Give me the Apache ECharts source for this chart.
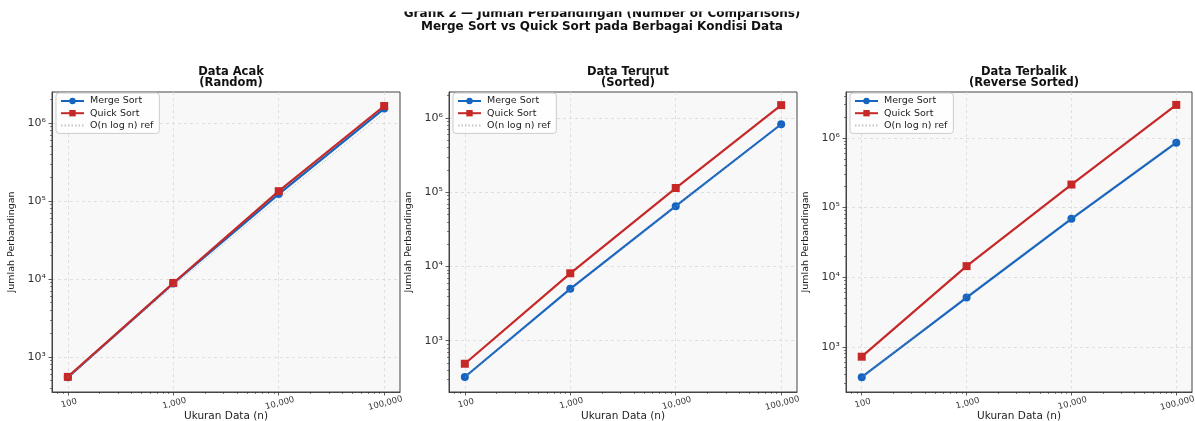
<!DOCTYPE html>
<html>
<head>
<meta charset="utf-8">
<script src="https://cdn.jsdelivr.net/npm/echarts@6/dist/echarts.min.js"></script>
<style>
html,body{margin:0;padding:0;background:#fff;}
#chart{width:1195px;height:421px;}
</style>
</head>
<body>
<div id="chart"></div>
<script>
// ---- Data ----
const sizesN = [100, 1000, 10000, 100000];
const panelTitles = ['Data Acak\n(Random)', 'Data Terurut\n(Sorted)', 'Data Terbalik\n(Reverse Sorted)'];
const seriesNames = ['Merge Sort', 'Quick Sort', 'O(n log n) ref'];

const mergeRandom = [548, 8750, 123000, 1540000];
const quickRandom = [555, 8900, 134000, 1660000];
const refRandom   = [541, 8115, 108200, 1352500];

const mergeSorted = [325, 5000, 65000, 824000];
const quickSorted = [490, 8100, 114000, 1490000];
const refSorted   = [320, 4800, 64000, 800000];

const mergeReverse = [365, 5100, 69000, 855000];
const quickReverse = [720, 14400, 214000, 2980000];
const refReverse   = [360, 5400, 72000, 900000];

const xTickLabels = ['100', '1,000', '10,000', '100,000'];
const yTickLabels = {3: '10³', 4: '10⁴', 5: '10⁵', 6: '10⁶'};

const panelData = [
  [mergeRandom, quickRandom, refRandom],
  [mergeSorted, quickSorted, refSorted],
  [mergeReverse, quickReverse, refReverse]
];

// axis extents (log axes, matplotlib-like margins)
const xMin = 70.8, xMax = 141254;
const yRanges = [[355, 2510000], [204, 2240000], [224, 4570000]];

// ---- Layout / style ----
const grids = [
  {left: 52, top: 92, width: 348, height: 300},
  {left: 449, top: 92, width: 348, height: 300},
  {left: 846, top: 92, width: 346, height: 300}
];
const FONT = 'DejaVu Sans';
const colors = ['#1565C0', '#C62828', '#a0a0a0'];
const FRAME = '#444444';

function minorValues(lo, hi) {
  const out = [];
  for (let e = -1; e <= 7; e++) {
    for (let m = 2; m <= 9; m++) {
      const v = m * Math.pow(10, e);
      if (v > lo && v < hi) out.push(v);
    }
  }
  return out;
}

const option = {
  animation: false,
  backgroundColor: '#ffffff',
  textStyle: {fontFamily: FONT},
  title: [],
  legend: [],
  grid: [],
  xAxis: [],
  yAxis: [],
  series: [],
  graphic: [{
    type: 'rect', z: 100, left: 0, top: 0,
    shape: {x: 0, y: 0, width: 1195, height: 11.5},
    style: {fill: '#ffffff'}
  }]
};

option.title.push({
  text: 'Grafik 2 — Jumlah Perbandingan (Number of Comparisons)\nMerge Sort vs Quick Sort pada Berbagai Kondisi Data',
  left: 597, top: 2, textAlign: 'center',
  textStyle: {fontFamily: FONT, fontSize: 12, fontWeight: 'bold', color: '#111', lineHeight: 13}
});

grids.forEach((g, i) => {
  option.grid.push(Object.assign({
    show: true, backgroundColor: '#f8f8f8', borderColor: FRAME, borderWidth: 1,
    containLabel: false, outerBoundsMode: 'none'
  }, g));
  option.title.push({
    text: panelTitles[i],
    left: g.left + g.width / 2, top: 61, textAlign: 'center',
    textStyle: {fontFamily: FONT, fontSize: 11.5, fontWeight: 'bold', color: '#111', lineHeight: 11.5}
  });
  option.legend.push({
    data: [seriesNames[0], seriesNames[1], {name: seriesNames[2], itemStyle: {opacity: 0}}],
    orient: 'vertical',
    left: g.left + 4, top: 93,
    padding: [3, 6, 3, 4],
    itemWidth: 23, itemHeight: 8, itemGap: 2.2,
    backgroundColor: 'rgba(255,255,255,0.85)',
    borderColor: '#cccccc', borderWidth: 1, borderRadius: 3,
    textStyle: {fontFamily: FONT, fontSize: 9.5, color: '#222', padding: [0, 0, 0, 1]}
  });

  const yr = yRanges[i];
  // main x axis
  option.xAxis.push({
    type: 'log', logBase: 10, gridIndex: i, min: xMin, max: xMax, position: 'bottom',
    name: 'Ukuran Data (n)', nameLocation: 'middle', nameGap: 19, nameMoveOverlap: false,
    nameTextStyle: {fontFamily: FONT, fontSize: 10.5, color: '#222', verticalAlign: 'top'},
    axisLine: {show: true, onZero: false, lineStyle: {color: FRAME, width: 1}},
    axisTick: {show: true, length: 3.5, lineStyle: {color: '#333', width: 0.8}},
    axisLabel: {
      show: true, rotate: 15, align: 'center', verticalAlign: 'top', margin: 7,
      showMinLabel: false, showMaxLabel: false,
      fontFamily: FONT, fontSize: 8.5, color: '#333',
      formatter: v => {
        const k = Math.round(Math.log10(v));
        return xTickLabels[k - 2] || '';
      }
    },
    splitLine: {show: true, showMinLine: false, showMaxLine: false,
      lineStyle: {color: '#d9d9d9', type: [3, 3], width: 0.8}}
  });
  // minor x ticks
  option.xAxis.push({
    type: 'log', logBase: 10, gridIndex: i, min: xMin, max: xMax, position: 'bottom',
    axisLine: {show: false, onZero: false}, axisLabel: {show: false}, splitLine: {show: false},
    axisTick: {show: true, length: 2, lineStyle: {color: '#333', width: 0.6},
      customValues: minorValues(xMin, xMax)}
  });
  // main y axis
  option.yAxis.push({
    type: 'log', logBase: 10, gridIndex: i, min: yr[0], max: yr[1], position: 'left',
    name: 'Jumlah Perbandingan', nameLocation: 'middle', nameGap: 35, nameMoveOverlap: false,
    nameTextStyle: {fontFamily: FONT, fontSize: 9.5, color: '#222'},
    axisLine: {show: true, onZero: false, lineStyle: {color: FRAME, width: 1}},
    axisTick: {show: true, length: 3.5, lineStyle: {color: '#333', width: 0.8}},
    axisLabel: {
      show: true, margin: 6, showMinLabel: false, showMaxLabel: false,
      fontFamily: FONT, fontSize: 11, color: '#333',
      formatter: v => yTickLabels[Math.round(Math.log10(v))] || ''
    },
    splitLine: {show: true, showMinLine: false, showMaxLine: false,
      lineStyle: {color: '#d9d9d9', type: [3, 3], width: 0.8}}
  });
  // minor y ticks
  option.yAxis.push({
    type: 'log', logBase: 10, gridIndex: i, min: yr[0], max: yr[1], position: 'left',
    axisLine: {show: false, onZero: false}, axisLabel: {show: false}, splitLine: {show: false},
    axisTick: {show: true, length: 2, lineStyle: {color: '#333', width: 0.6},
      customValues: minorValues(yr[0], yr[1])}
  });

  const [m, q, r] = panelData[i];
  const toPts = arr => sizesN.map((n, j) => [n, arr[j]]);
  option.series.push({
    name: seriesNames[0], type: 'line', xAxisIndex: 2 * i, yAxisIndex: 2 * i,
    data: toPts(m), symbol: 'circle', symbolSize: 8,
    lineStyle: {color: colors[0], width: 2.2}, itemStyle: {color: colors[0]}, z: 3
  });
  option.series.push({
    name: seriesNames[1], type: 'line', xAxisIndex: 2 * i, yAxisIndex: 2 * i,
    data: toPts(q), symbol: 'rect', symbolSize: 8,
    lineStyle: {color: colors[1], width: 2.2}, itemStyle: {color: colors[1]}, z: 4
  });
  option.series.push({
    name: seriesNames[2], type: 'line', xAxisIndex: 2 * i, yAxisIndex: 2 * i,
    data: toPts(r), symbol: 'none', showSymbol: false,
    lineStyle: {color: colors[2], width: 1, type: [1.5, 2], opacity: 0.6},
    itemStyle: {color: colors[2]}, z: 5
  });
});

const chart = echarts.init(document.getElementById('chart'), null, {renderer: 'canvas'});
chart.setOption(option);
</script>
</body>
</html>
